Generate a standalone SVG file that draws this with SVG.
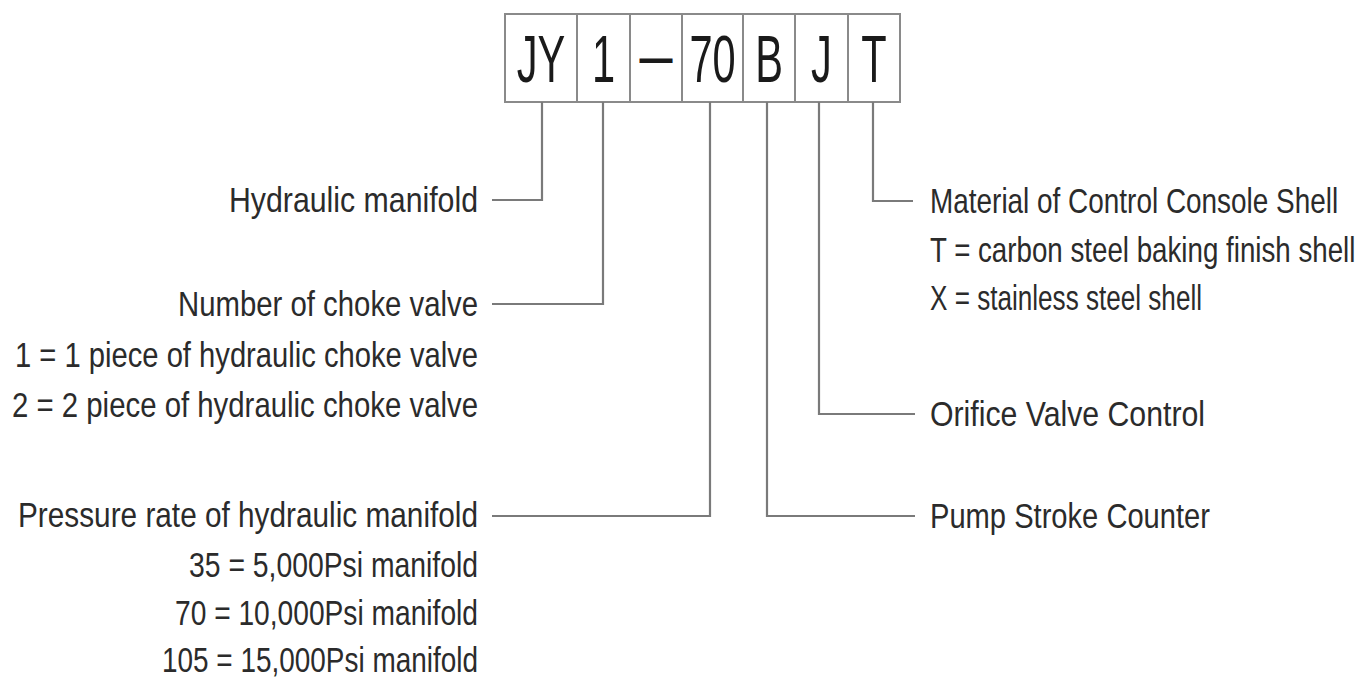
<svg xmlns="http://www.w3.org/2000/svg" width="1365" height="679" viewBox="0 0 1365 679">
<style>
.lbl{font-family:"Liberation Sans",Arial,sans-serif;font-size:35px;fill:#2b2b2b}
.code{font-family:"Liberation Sans",Arial,sans-serif;font-size:66px;fill:#1a1a1a;text-anchor:middle}
.cell{fill:#fff;stroke:#8a8a8a;stroke-width:2}
.conn{fill:none;stroke:#7a7a7a;stroke-width:2.2}
</style>
<rect width="1365" height="679" fill="#fff"/>
<g id="code-box">
<rect class="cell" x="505" y="14" width="395" height="88"/>
<path class="cell" d="M577 14V102M630 14V102M682 14V102M743 14V102M795 14V102M848 14V102"/>
<text class="code" transform="translate(541,82) scale(0.63,1)">JY</text>
<text class="code" transform="translate(603.5,82) scale(0.63,1)">1</text>
<text class="code" transform="translate(656,78) scale(0.5,1)">—</text>
<text class="code" transform="translate(712.5,82) scale(0.63,1)">70</text>
<text class="code" transform="translate(769,82) scale(0.63,1)">B</text>
<text class="code" transform="translate(821.5,82) scale(0.63,1)">J</text>
<text class="code" transform="translate(874,82) scale(0.63,1)">T</text>
</g>
<g id="connectors">
<path class="conn" d="M542 102V200H492"/>
<path class="conn" d="M603 102V304H492"/>
<path class="conn" d="M710 102V516H492"/>
<path class="conn" d="M767 102V516H915"/>
<path class="conn" d="M819 102V414H915"/>
<path class="conn" d="M873 102V201H913"/>
</g>
<g id="hydraulic-manifold">
<text class="lbl" x="229" y="212" textLength="249" lengthAdjust="spacingAndGlyphs">Hydraulic manifold</text>
</g>
<g id="choke-valve">
<text class="lbl" x="178" y="316" textLength="300" lengthAdjust="spacingAndGlyphs">Number of choke valve</text>
<text class="lbl" x="15" y="367" textLength="463" lengthAdjust="spacingAndGlyphs">1 = 1 piece of hydraulic choke valve</text>
<text class="lbl" x="12" y="417" textLength="466" lengthAdjust="spacingAndGlyphs">2 = 2 piece of hydraulic choke valve</text>
</g>
<g id="pressure-rate">
<text class="lbl" x="18" y="527" textLength="460" lengthAdjust="spacingAndGlyphs">Pressure rate of hydraulic manifold</text>
<text class="lbl" x="189" y="577" textLength="289" lengthAdjust="spacingAndGlyphs">35 = 5,000Psi manifold</text>
<text class="lbl" x="175" y="625" textLength="303" lengthAdjust="spacingAndGlyphs">70 = 10,000Psi manifold</text>
<text class="lbl" x="162" y="672" textLength="316" lengthAdjust="spacingAndGlyphs">105 = 15,000Psi manifold</text>
</g>
<g id="shell-material">
<text class="lbl" transform="translate(930,213) scale(0.798,1)">Material of Control Console Shell</text>
<text class="lbl" transform="translate(930,262) scale(0.792,1)">T = carbon steel baking finish shell</text>
<text class="lbl" x="930" y="310" textLength="272" lengthAdjust="spacingAndGlyphs">X = stainless steel shell</text>
</g>
<g id="orifice-valve">
<text class="lbl" x="930" y="426" textLength="275" lengthAdjust="spacingAndGlyphs">Orifice Valve Control</text>
</g>
<g id="pump-stroke">
<text class="lbl" x="930" y="528" textLength="280" lengthAdjust="spacingAndGlyphs">Pump Stroke Counter</text>
</g>
</svg>
